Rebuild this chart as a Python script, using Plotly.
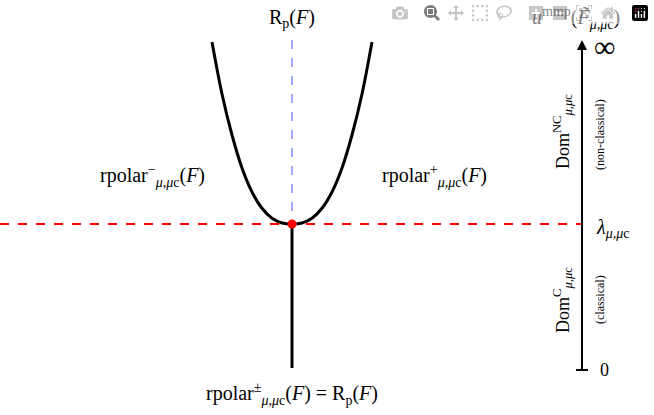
import plotly.graph_objects as go

# curve samples (pixel-like coordinates, y downward)
curve_dx = [-80, -70, -60, -50, -40, -30, -20, -10, 0, 10, 20, 30, 40, 50, 60, 70, 80]
curve_dy = [182, 130, 89, 56, 32, 15.7, 5.7, 1, 0, 1, 5.7, 15.7, 32, 56, 89, 130, 182]
cx, cy = 292, 224
axis_x, axis_bottom, axis_top = 582, 370, 40

W, H = 654, 415
fig = go.Figure()
fig.add_trace(go.Scatter(x=[cx + d for d in curve_dx], y=[cy - d for d in curve_dy],
                         mode="lines", line=dict(color="black", width=3), line_shape="spline"))
fig.add_trace(go.Scatter(x=[cx, cx], y=[cy, 368], mode="lines", line=dict(color="black", width=3)))
fig.add_trace(go.Scatter(x=[cx, cx], y=[40, cy], mode="lines", line=dict(color="#4455ff", width=1, dash="dash")))
fig.add_trace(go.Scatter(x=[0, axis_x], y=[cy, cy], mode="lines", line=dict(color="red", width=2, dash="dash")))
fig.add_trace(go.Scatter(x=[axis_x, axis_x], y=[axis_bottom, axis_top + 6], mode="lines", line=dict(color="black", width=2)))
fig.add_trace(go.Scatter(x=[axis_x - 6, axis_x + 6], y=[axis_bottom, axis_bottom], mode="lines", line=dict(color="black", width=2)))
fig.add_trace(go.Scatter(x=[cx], y=[cy], mode="markers", marker=dict(color="red", size=9)))
fig.add_annotation(x=axis_x, y=axis_top, ax=axis_x, ay=axis_top + 20, xref="x", yref="y", axref="x", ayref="y",
                   showarrow=True, arrowhead=2, arrowsize=1, arrowwidth=2, arrowcolor="black", text="")

F = "Liberation Serif"
def t(x, y, s, size=20, angle=0):
    fig.add_annotation(x=x, y=y, text=s, showarrow=False, textangle=angle,
                       font=dict(family=F, size=size, color="black"))
t(292, 18, "R<sub>p</sub>(<i>F</i>)")
t(292, 394, "rpolar<sup>±</sup><sub><i>μ,μ</i>c</sub>(<i>F</i>) = R<sub>p</sub>(<i>F</i>)")
t(152, 176, "rpolar<sup>−</sup><sub><i>μ,μ</i>c</sub>(<i>F</i>)")
t(434, 176, "rpolar<sup>+</sup><sub><i>μ,μ</i>c</sub>(<i>F</i>)")
t(576, 18, "<i>u</i><sup>mmp</sup>(<i>F̃</i><sub><i>μ,μ</i>c</sub>)")
t(612, 228, "<i>λ</i><sub><i>μ,μ</i>c</sub>")
t(604, 370, "0", 18)
t(604, 46, "∞", 30)
t(562, 132, "Dom<sup>NC</sup><sub><i>μ,μ</i>c</sub>", 18, -90)
t(600, 135, "(non-classical)", 12, -90)
t(562, 300, "Dom<sup>C</sup><sub><i>μ,μ</i>c</sub>", 18, -90)
t(600, 300, "(classical)", 12, -90)

fig.update_layout(width=W, height=H, margin=dict(l=0, r=0, t=0, b=0), showlegend=False,
                  plot_bgcolor="white", paper_bgcolor="white",
                  xaxis=dict(range=[0, W], visible=False),
                  yaxis=dict(range=[H, 0], visible=False))
fig.write_html("out.html", post_script="document.body.style.margin='0';")
